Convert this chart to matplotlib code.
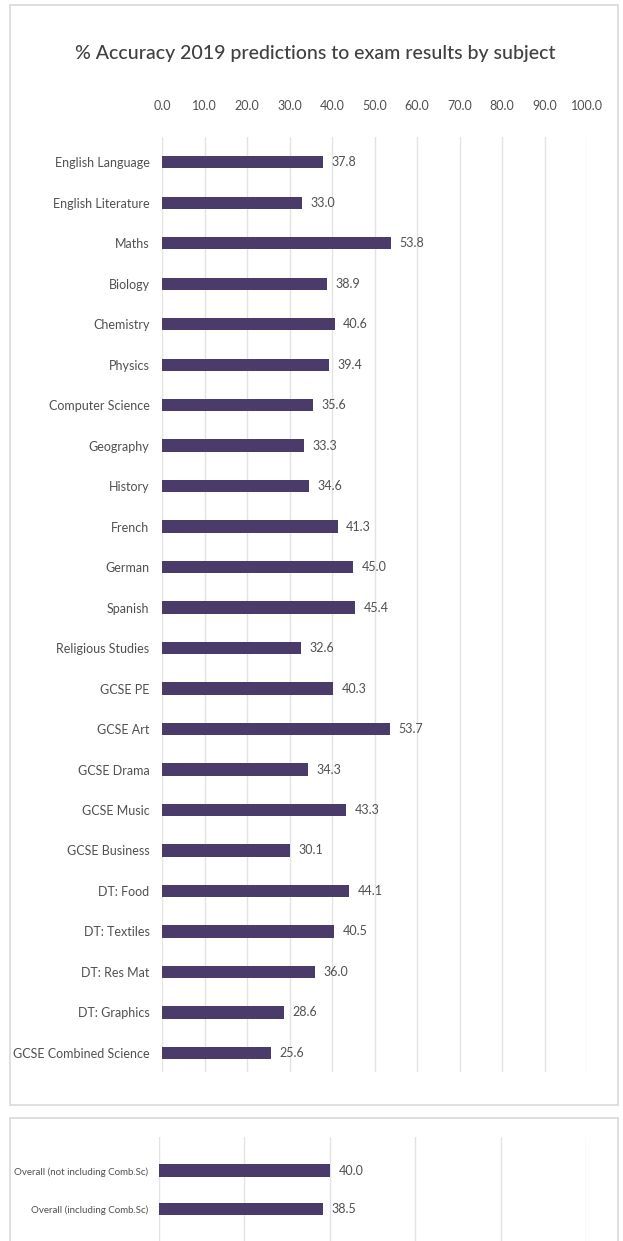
import matplotlib
matplotlib.use("Agg")
import matplotlib.pyplot as plt
from matplotlib.patches import Rectangle

plt.rcParams['font.family'] = ['Lato', 'DejaVu Sans']

subjects = ["English Language", "English Literature", "Maths", "Biology", "Chemistry",
            "Physics", "Computer Science", "Geography", "History", "French", "German",
            "Spanish", "Religious Studies", "GCSE PE", "GCSE Art", "GCSE Drama",
            "GCSE Music", "GCSE Business", "DT: Food", "DT: Textiles", "DT: Res Mat",
            "DT: Graphics", "GCSE Combined Science"]
accuracy = [37.8, 33.0, 53.8, 38.9, 40.6, 39.4, 35.6, 33.3, 34.6, 41.3, 45.0, 45.4,
            32.6, 40.3, 53.7, 34.3, 43.3, 30.1, 44.1, 40.5, 36.0, 28.6, 25.6]

overall_labels = ["Overall (not including Comb.Sc)", "Overall (including Comb.Sc)"]
overall_values = [40.0, 38.5]

top_ticks = [0, 10, 20, 30, 40, 50, 60, 70, 80, 90, 100]
bottom_grid = [0, 20, 40, 60, 80, 100]

title = "% Accuracy 2019 predictions to exam results by subject"

W, H = 623, 1241
bar_color = "#4a3b6b"
text_color = "#505050"
grid_color = "#e3e3e3"

fig = plt.figure(figsize=(W / 100, H / 100), dpi=100)
fig.patch.set_facecolor("white")

def fx(px):
    return px / W

def fy(py):
    return 1 - py / H

# panel frames
for (x0, y0, x1, y1) in [(10, 5, 618, 1105), (10, 1118, 618, 1245)]:
    fig.patches.append(Rectangle((fx(x0), fy(y1)), fx(x1 - x0), (y1 - y0) / H,
                                 transform=fig.transFigure, fill=False,
                                 edgecolor="#d9d9d9", linewidth=1.2))

fig.text(fx(315), fy(53), title, ha="center", va="center", fontsize=14,
         color="#404040", fontweight="medium")

# main axes
ax = fig.add_axes([fx(162), fy(1072), fx(587 - 162), (1072 - 137) / H])
y = list(range(len(subjects)))
ax.barh(y, accuracy, height=0.3, color=bar_color, zorder=3)
ax.set_xlim(0, 100)
ax.set_ylim(22.47, -0.62)
ax.set_yticks(y)
ax.set_yticklabels(subjects, fontsize=9, color=text_color)
ax.set_xticks(top_ticks)
ax.set_xticklabels([f"{t:.1f}" for t in top_ticks], fontsize=9, color=text_color)
ax.xaxis.tick_top()
ax.tick_params(axis="y", length=0, pad=9)
ax.tick_params(axis="x", length=0, pad=18)
ax.grid(axis="x", color=grid_color, linewidth=1, zorder=0)
for s in ax.spines.values():
    s.set_visible(False)
for yi, v in zip(y, accuracy):
    ax.text(v + 2, yi, f"{v:.1f}", va="center", ha="left", fontsize=9,
            color=text_color)

# bottom axes
ax2 = fig.add_axes([fx(159), 0, fx(586 - 159), (1241 - 1137) / H])
y2 = list(range(len(overall_labels)))
ax2.barh(y2, overall_values, height=0.34, color=bar_color, zorder=3)
ax2.set_xlim(0, 100)
ax2.set_ylim(1.84, -0.89)
ax2.set_yticks(y2)
ax2.set_yticklabels(overall_labels, fontsize=7, color=text_color)
ax2.set_xticks(bottom_grid)
ax2.set_xticklabels([])
ax2.tick_params(axis="both", length=0, pad=8)
ax2.grid(axis="x", color=grid_color, linewidth=1, zorder=0)
for s in ax2.spines.values():
    s.set_visible(False)
for yi, v in zip(y2, overall_values):
    ax2.text(v + 2, yi, f"{v:.1f}", va="center", ha="left", fontsize=9,
             color=text_color)

fig.savefig("out.png", dpi=100, facecolor="white")
